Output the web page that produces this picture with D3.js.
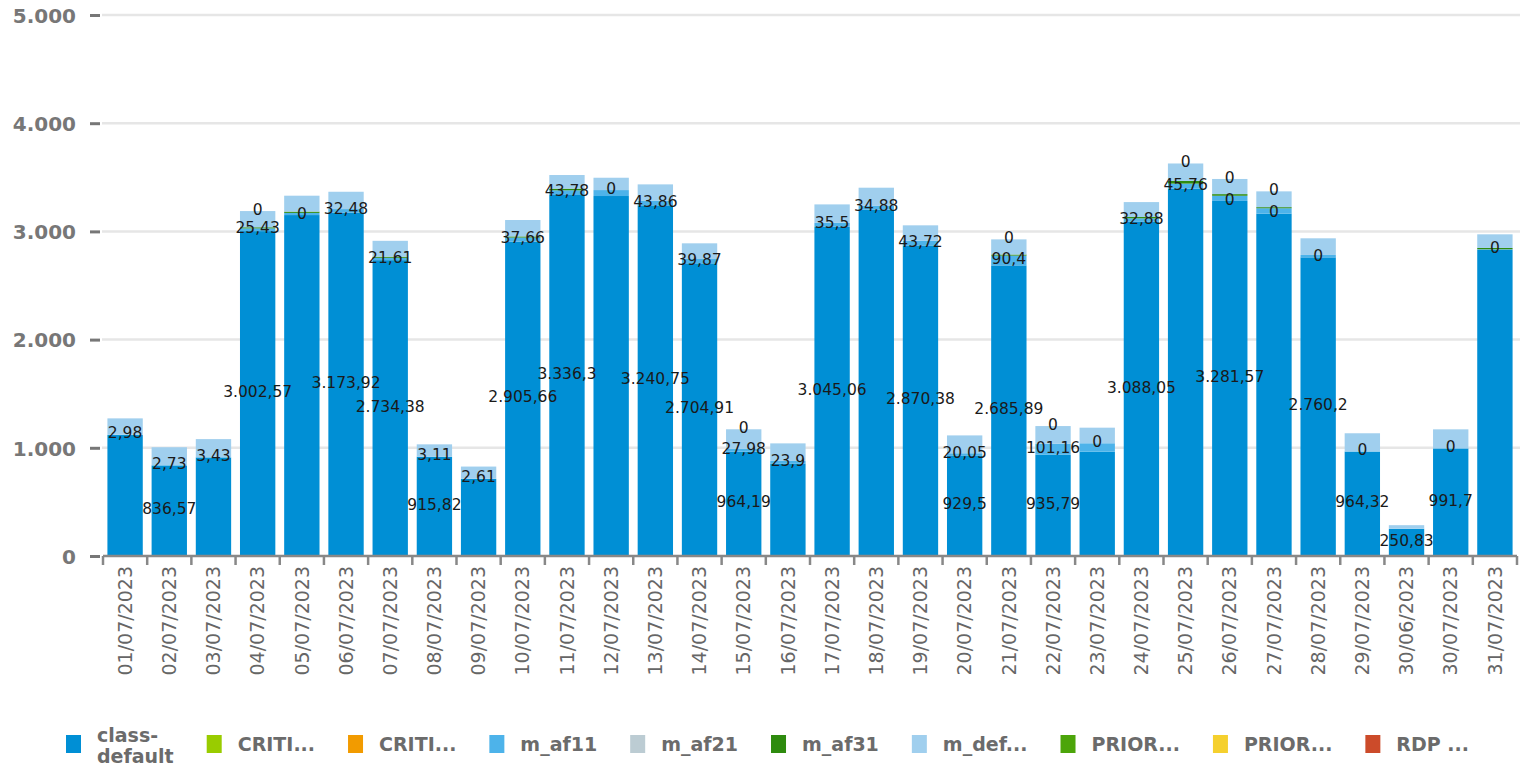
<!DOCTYPE html>
<html><head><meta charset="utf-8">
<script src="https://cdn.jsdelivr.net/npm/d3@7"></script>
<style>body{margin:0;background:#fff;} svg{display:block;font-family:"DejaVu Sans",sans-serif;}</style>
</head><body><svg id="c" width="1529" height="767"></svg>
<script>
// ---- data ----
const dates = ["01/07/2023","02/07/2023","03/07/2023","04/07/2023","05/07/2023","06/07/2023","07/07/2023","08/07/2023","09/07/2023","10/07/2023","11/07/2023","12/07/2023","13/07/2023","14/07/2023","15/07/2023","16/07/2023","17/07/2023","18/07/2023","19/07/2023","20/07/2023","21/07/2023","22/07/2023","23/07/2023","24/07/2023","25/07/2023","26/07/2023","27/07/2023","28/07/2023","29/07/2023","30/06/2023","30/07/2023","31/07/2023"];
const classDefault = [1118,836.57,910,3002.57,3151,3173.92,2734.38,915.82,712,2905.66,3336.3,3327,3240.75,2704.91,964.19,855,3045.06,3201,2870.38,929.5,2685.89,935.79,964,3088.05,3396,3281.57,3164,2760.2,964.32,250.83,991.7,2830];
const critical1 = dates.map(() => 0);
const critical2 = dates.map(() => 0);
const mAf11 = [2.98,2.73,3.43,25.43,20,32.48,21.61,3.11,2.61,37.66,43.78,55,43.86,39.87,27.98,23.9,35.5,34.88,43.72,20.05,90.4,101.16,78,32.88,45.76,48,50,22,3,2,5,5];
const mAf21 = dates.map(() => 0);
const mAf31 = [0,0,0,10,12,0,10,0,0,10,15,0,0,0,0,0,0,0,0,0,10,0,0,12,25,15,10,0,0,0,0,12];
const mDef = [151,166,167,150,147,160,147,113,112,152,126,114,150,145,179,162,169,168,142,165,140,164,144,138,161,140,146,154,167,32,174,126];
const priority1 = dates.map(() => 0);
const priority2 = dates.map(() => 0);
const rdp = dates.map(() => 0);
const yTicks = [0,1000,2000,3000,4000,5000];

// which bars show a value label, per series
const cdLabelIdx = [1,3,5,6,7,9,10,12,13,14,16,18,19,20,21,23,25,27,28,29,30];
const critLabelIdx = [4,25,26,27,28,30,31];
const af11LabelIdx = [0,1,2,3,5,6,7,8,9,10,12,13,14,15,16,17,18,19,20,21,23,24];
const af21LabelIdx = [11,22];
const prioLabelIdx = [3,14,20,21,24,25,26];

const keys = ["class-default","CRITI1","CRITI2","m_af11","m_af21","m_af31","m_def","PRIOR1","PRIOR2","RDP"];
const valuesByKey = [classDefault,critical1,critical2,mAf11,mAf21,mAf31,mDef,priority1,priority2,rdp];
const legendNames = [["class-","default"],["CRITI..."],["CRITI..."],["m_af11"],["m_af21"],["m_af31"],["m_def..."],["PRIOR..."],["PRIOR..."],["RDP ..."]];
const colors = ["#008fd5","#99cc00","#f29b00","#4db3ea","#bcccd3","#2e8b0e","#a0cfee","#4ca50a","#f5d02e","#cc4b2a"];

// ---- chart ----
const svg = d3.select("#c");
const rows = dates.map((d,i) => { const r = {date:d}; keys.forEach((k,j)=> r[k] = valuesByKey[j][i]); return r; });
const stacked = d3.stack().keys(keys)(rows);

const x = d3.scaleBand().domain(dates).range([103,1517]).paddingInner(0.2).paddingOuter(0.1);
const y = d3.scaleLinear().domain([0,5000]).range([556,15]);
const step = x.step();
const locale = d3.formatLocale({decimal:",",thousands:".",grouping:[3],currency:["",""]});

// gridlines
svg.append("g").selectAll("line").data(yTicks.slice(1)).join("line")
  .attr("x1",102).attr("x2",1520).attr("y1",d=>y(d)).attr("y2",d=>y(d))
  .attr("stroke","#e6e6e6").attr("stroke-width",2.5);

// y axis
const yAxis = svg.append("g").attr("transform","translate(100,0)")
  .call(d3.axisLeft(y).tickValues(yTicks).tickSize(10).tickPadding(14).tickFormat(locale.format(",d")));
yAxis.select(".domain").remove();
yAxis.selectAll(".tick line").attr("stroke","#777").attr("stroke-width",3);
yAxis.selectAll(".tick text").attr("fill","#777").attr("font-size",20).attr("font-weight","bold")
  .attr("font-family","DejaVu Sans").attr("dy","0.36em");

// bars
const colorOf = d3.scaleOrdinal().domain(keys).range(colors);
svg.append("g").selectAll("g").data(stacked).join("g").attr("fill",d=>colorOf(d.key))
  .selectAll("rect").data(d=>d).join("rect")
  .attr("x",d=>x(d.data.date)).attr("width",x.bandwidth())
  .attr("y",d=>y(d[1])).attr("height",d=>Math.max(0,y(d[0])-y(d[1])));

// x axis
const xg = svg.append("g").attr("transform","translate(0,556)");
xg.append("line").attr("x1",103).attr("x2",1517).attr("stroke","#888").attr("stroke-width",2.5);
xg.selectAll("line.tk").data(d3.range(dates.length+1)).join("line").attr("class","tk")
  .attr("x1",i=>103+i*step).attr("x2",i=>103+i*step).attr("y1",0).attr("y2",9)
  .attr("stroke","#888").attr("stroke-width",2.5);
xg.selectAll("text").data(dates).join("text")
  .attr("transform",d=>`translate(${x(d)+x.bandwidth()/2},10) rotate(-90)`)
  .attr("text-anchor","end").attr("dy","0.35em")
  .attr("font-size",19).attr("fill","#666").text(d=>d);

// data labels
const fmt = locale.format(",.2~f");
const labelSets = [["class-default",cdLabelIdx],["CRITI1",critLabelIdx],["m_af11",af11LabelIdx],["m_af21",af21LabelIdx],["PRIOR1",prioLabelIdx]];
const labelData = [];
labelSets.forEach(([k,idx]) => {
  const layer = stacked[keys.indexOf(k)];
  idx.forEach(i => { const d = layer[i]; labelData.push({date:d.data.date, v:d.data[k], mid:(y(d[0])+y(d[1]))/2}); });
});
svg.append("g").selectAll("text").data(labelData).join("text")
  .attr("x",d=>x(d.date)+x.bandwidth()/2).attr("y",d=>d.mid-2).attr("dy","0.36em")
  .attr("text-anchor","middle").attr("font-size",15.5).attr("fill","#1a1a1a")
  .text(d=>fmt(d.v));

// legend
const lg = svg.append("g").attr("transform","translate(0,744)");
let lx = 66;
legendNames.forEach((name,i) => {
  const it = lg.append("g").attr("transform",`translate(${lx},0)`);
  it.append("rect").attr("x",0).attr("y",-9).attr("width",15).attr("height",18).attr("fill",colors[i]);
  const t = it.append("text").attr("x",31).attr("font-size",19).attr("font-weight","bold").attr("fill","#6b6b6b");
  if (name.length === 1) t.append("tspan").attr("x",31).attr("dy","0.36em").text(name[0]);
  else name.forEach((n,j)=> t.append("tspan").attr("x",31).attr("dy", j===0 ? "-2" : "21").text(n));
  const w = t.node().getBBox().width;
  lx += 31 + w + 33;
});
</script></body></html>
